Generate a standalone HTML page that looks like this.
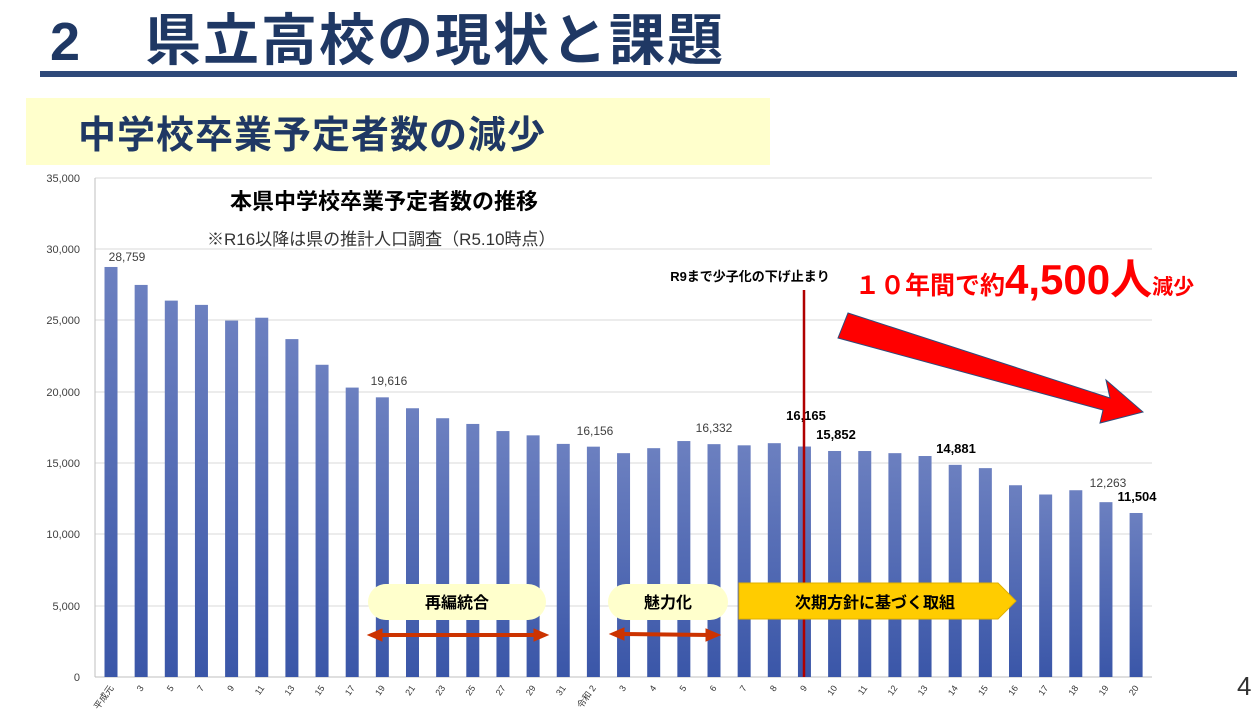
<!DOCTYPE html>
<html><head><meta charset="utf-8"><style>
body{margin:0;width:1259px;height:711px;background:#fff;overflow:hidden;font-family:"Liberation Sans","Noto Sans CJK JP",sans-serif;}
</style></head><body>
<svg width="1259" height="711" xmlns="http://www.w3.org/2000/svg" font-family="Liberation Sans, Noto Sans CJK JP, sans-serif">
<defs>
<linearGradient id="bg" x1="0" y1="0" x2="0" y2="1"><stop offset="0" stop-color="#6c80c0"/><stop offset="1" stop-color="#3a56a8"/></linearGradient>
</defs>
<text x="50" y="60" font-size="54" font-weight="bold" fill="#1f3864">2</text>
<text x="145" y="60" font-size="56" font-weight="bold" fill="#1f3864" letter-spacing="2">県立高校の現状と課題</text>
<rect x="40" y="71" width="1197" height="6" fill="#2f4a7a"/>
<rect x="26" y="98" width="744" height="67" fill="#ffffcc"/>
<text x="78" y="148" font-size="38" font-weight="bold" fill="#1f3864" letter-spacing="1">中学校卒業予定者数の減少</text>
<g stroke="#d9d9d9" stroke-width="1">
<line x1="95" y1="178" x2="1152" y2="178"/><line x1="95" y1="249" x2="1152" y2="249"/><line x1="95" y1="320" x2="1152" y2="320"/><line x1="95" y1="392" x2="1152" y2="392"/><line x1="95" y1="463" x2="1152" y2="463"/><line x1="95" y1="534" x2="1152" y2="534"/><line x1="95" y1="606" x2="1152" y2="606"/>
</g>
<line x1="95" y1="178" x2="95" y2="677" stroke="#bfbfbf"/>
<line x1="95" y1="677" x2="1152" y2="677" stroke="#bfbfbf"/>
<g font-size="11" fill="#404040" text-anchor="end">
<text x="80" y="182">35,000</text><text x="80" y="253">30,000</text><text x="80" y="324">25,000</text><text x="80" y="396">20,000</text><text x="80" y="467">15,000</text><text x="80" y="538">10,000</text><text x="80" y="610">5,000</text><text x="80" y="681">0</text>
</g>
<g fill="url(#bg)" id="bars"></g>
<g id="xl" font-size="9" fill="#333"></g>
<text x="230" y="209" font-size="22" font-weight="bold" fill="#000">本県中学校卒業予定者数の推移</text>
<text x="207" y="245" font-size="17" fill="#333">※R16以降は県の推計人口調査（R5.10時点）</text>
<g font-size="12" fill="#404040" text-anchor="middle">
<text x="127" y="261">28,759</text><text x="389" y="385">19,616</text><text x="595" y="435">16,156</text><text x="714" y="432">16,332</text><text x="1108" y="487">12,263</text>
</g>
<g font-size="13" font-weight="bold" fill="#000" text-anchor="middle">
<text x="806" y="420">16,165</text><text x="836" y="439">15,852</text><text x="956" y="453">14,881</text><text x="1137" y="501">11,504</text>
</g>
<line x1="804" y1="290" x2="804" y2="677" stroke="#b00000" stroke-width="2.5"/>
<text x="750" y="281" font-size="13" font-weight="bold" fill="#000" text-anchor="middle">R9まで少子化の下げ止まり</text>
<text x="855" y="294" font-size="25" font-weight="bold" fill="#ff0000">１０年間で約<tspan font-size="42">4,500人</tspan><tspan font-size="21">減少</tspan></text>
<polygon points="848,313 1110,398 1106,380 1143,412 1100,423 1103,410 838,338" fill="#ff0000" stroke="#2f4a7a" stroke-width="1"/>
<rect x="368" y="584" width="178" height="36" rx="18" fill="#ffffcc"/>
<text x="457" y="608" font-size="16" font-weight="bold" text-anchor="middle">再編統合</text>
<rect x="608" y="584" width="120" height="36" rx="18" fill="#ffffcc"/>
<text x="668" y="608" font-size="16" font-weight="bold" text-anchor="middle">魅力化</text>
<polygon points="739,583 998,583 1016,601 998,619 739,619" fill="#ffcc00" stroke="#e0b000"/>
<text x="875" y="608" font-size="16" font-weight="bold" text-anchor="middle">次期方針に基づく取組</text>
<g fill="#cc3300" stroke="#cc3300">
<line x1="378" y1="635" x2="538" y2="635" stroke-width="4"/><polygon points="368,635 382,629 382,641"/><polygon points="548,635 534,629 534,641"/>
<line x1="620" y1="634" x2="710" y2="635" stroke-width="4"/><polygon points="610,634 624,628 624,640"/><polygon points="720,635 706,629 706,641"/>
</g>
<text x="1237" y="695" font-size="26" fill="#333">4</text>
<script>
var v=[28759,27500,26400,26100,25000,25200,23700,21900,20300,19616,18850,18150,17750,17250,16950,16350,16156,15700,16050,16550,16332,16250,16400,16165,15852,15850,15700,15500,14881,14650,13450,12800,13100,12263,11504];
var l=["平成元","3","5","7","9","11","13","15","17","19","21","23","25","27","29","31","令和 2","3","4","5","6","7","8","9","10","11","12","13","14","15","16","17","18","19","20"];
var b=document.getElementById("bars"),x=document.getElementById("xl"),ns="http://www.w3.org/2000/svg";
for(var i=0;i<35;i++){var cx=111+i*30.15,h=v[i]/35000*499;
var r=document.createElementNS(ns,"rect");r.setAttribute("x",cx-6.5);r.setAttribute("y",677-h);r.setAttribute("width",13);r.setAttribute("height",h);b.appendChild(r);
var t=document.createElementNS(ns,"text");t.setAttribute("transform","translate("+(cx+3)+",688) rotate(-55)");t.setAttribute("text-anchor","end");t.textContent=l[i];x.appendChild(t);}
</script>
</svg>
</body></html>
